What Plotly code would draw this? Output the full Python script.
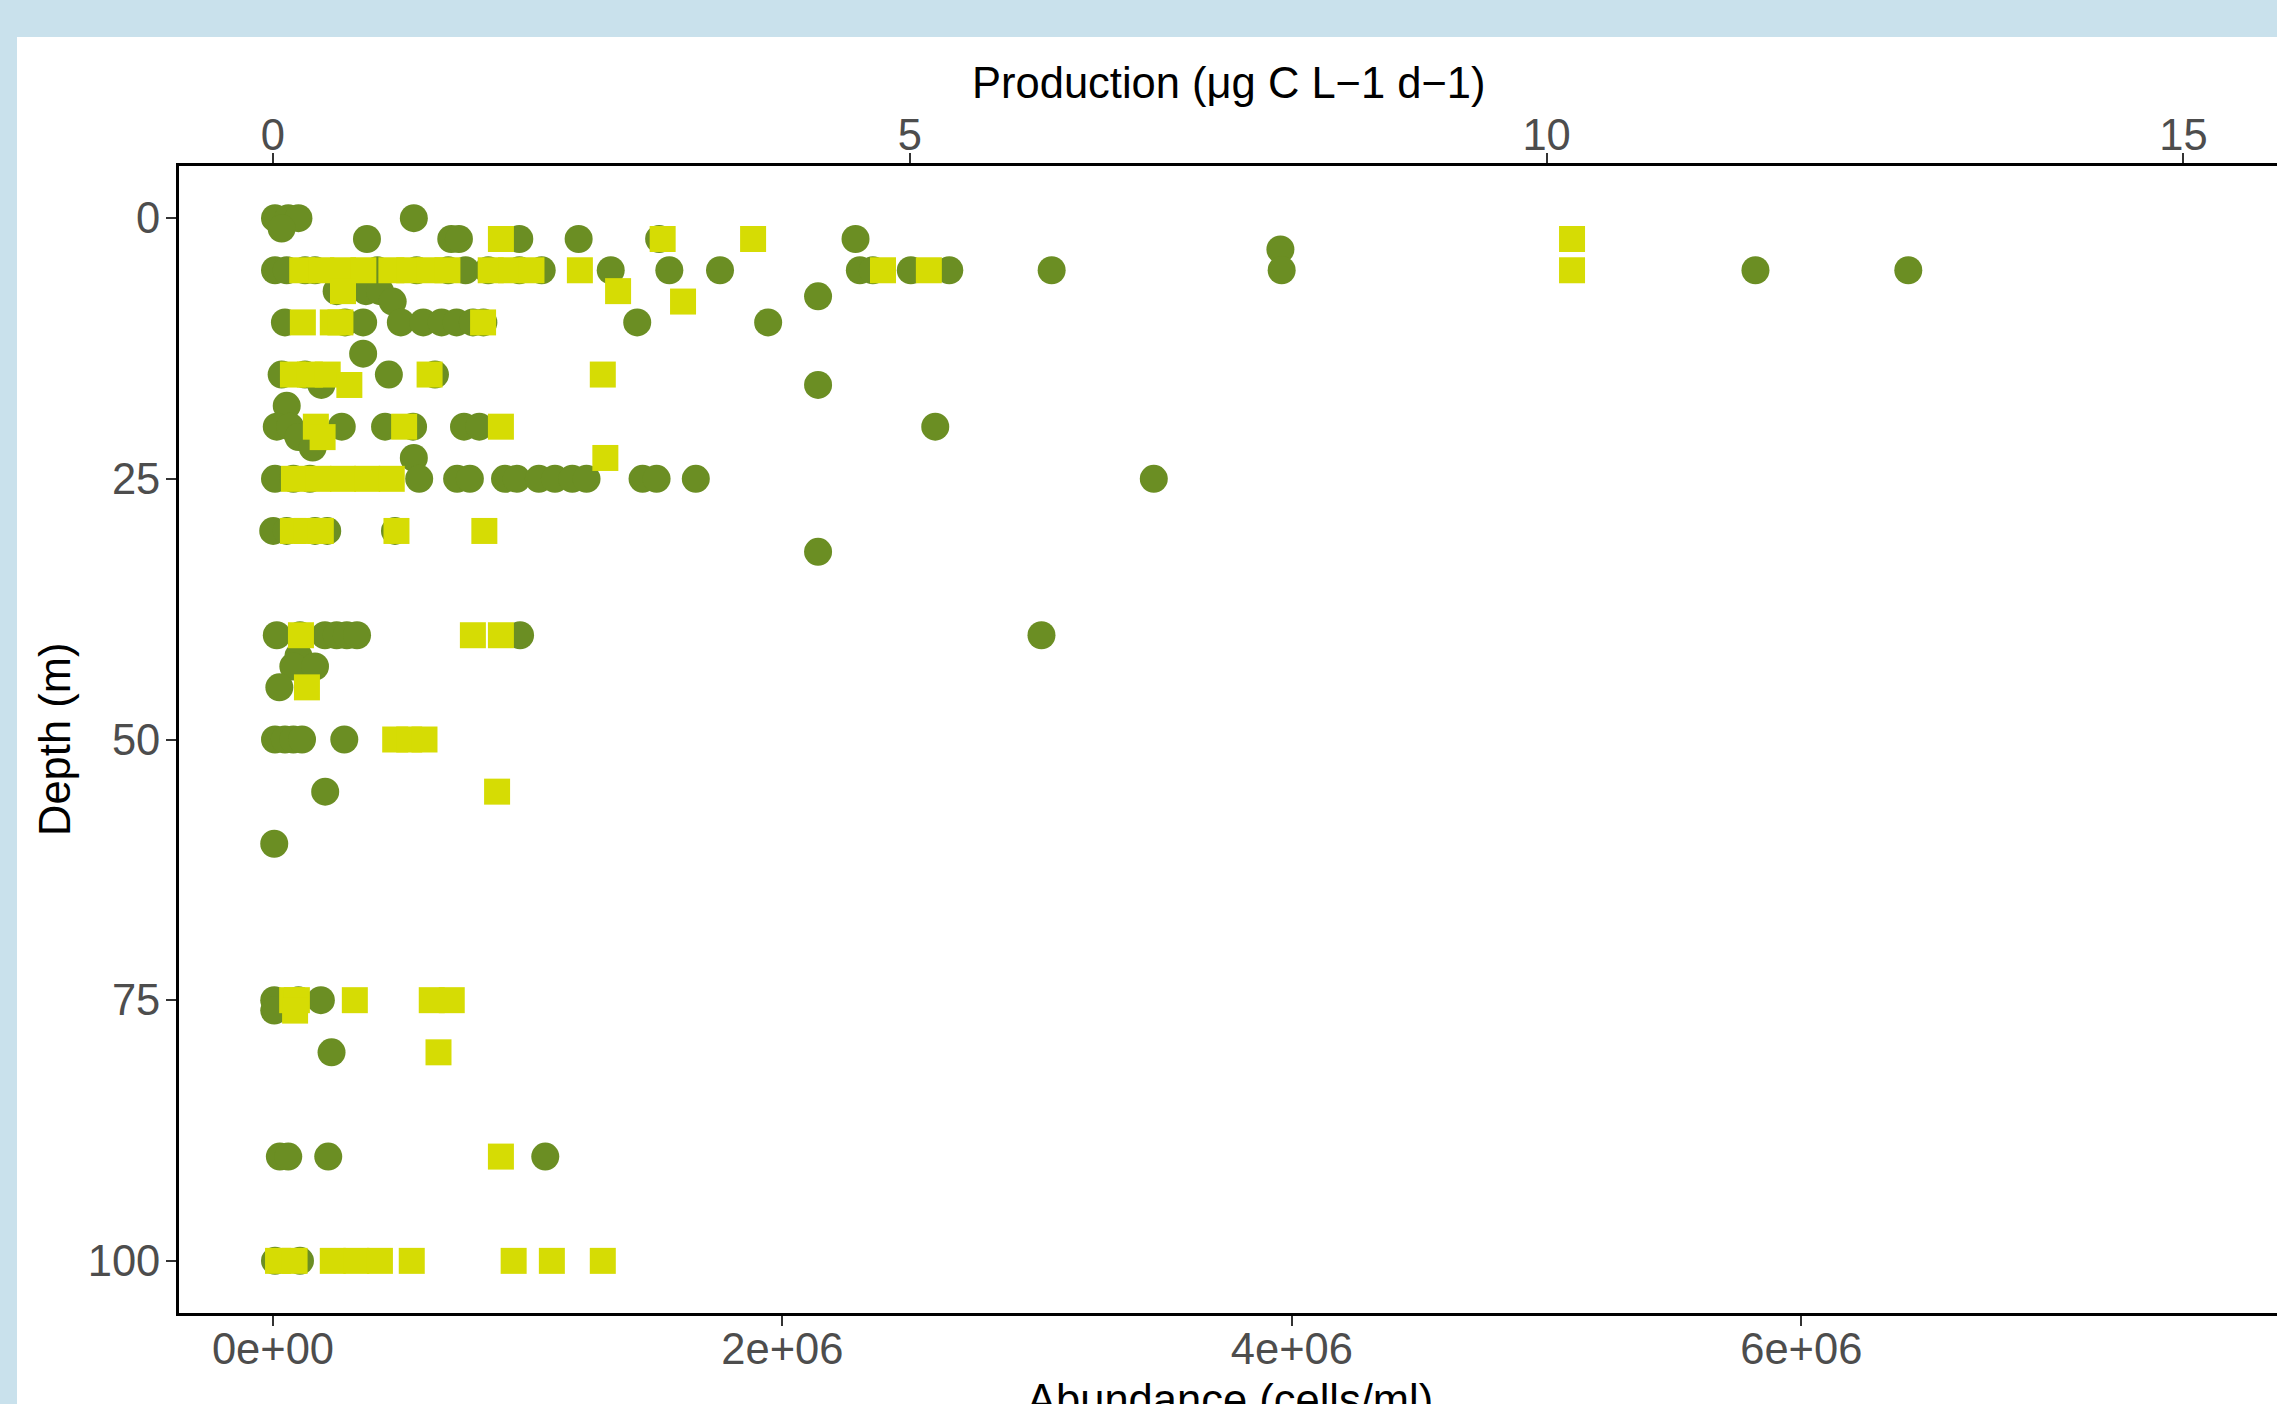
import plotly.graph_objects as go

# ---------------- data ----------------
# Abundance (cells/ml) vs depth (m) -- circles, bottom axis
ab_depth = (
    [0, 0, 0, 0]
    + [1]
    + [2, 2, 2, 2, 2, 2, 2]
    + [3]
    + [5] * 22
    + [7, 7, 7]
    + [7.5]
    + [8]
    + [10] * 11
    + [13]
    + [15, 15, 15, 15]
    + [16, 16]
    + [18]
    + [20] * 8
    + [21]
    + [22]
    + [23]
    + [25] * 16
    + [30] * 5
    + [32]
    + [40] * 8
    + [42]
    + [43, 43]
    + [45]
    + [50] * 5
    + [55]
    + [60]
    + [75, 75, 75]
    + [76]
    + [80]
    + [90] * 4
    + [100, 100]
)
abundance_millions = (
    [0.008, 0.06, 0.10, 0.553]
    + [0.034]
    + [0.369, 0.70, 0.73, 0.967, 1.20, 1.516, 2.287]
    + [3.955]
    + [0.008, 0.054, 0.126, 0.165, 0.41, 0.564, 0.688, 0.756, 0.845, 0.967, 1.055,
       1.326, 1.556, 1.755, 2.304, 2.355, 2.504, 2.655, 3.057, 3.96, 5.82, 6.42]
    + [0.25, 0.365, 0.42]
    + [2.14]
    + [0.47]
    + [0.047, 0.283, 0.354, 0.502, 0.59, 0.662, 0.721, 0.785, 0.826, 1.43, 1.944]
    + [0.354]
    + [0.034, 0.126, 0.455, 0.636]
    + [0.19, 2.14]
    + [0.054]
    + [0.015, 0.067, 0.27, 0.44, 0.55, 0.75, 0.81, 2.6]
    + [0.10]
    + [0.156]
    + [0.553]
    + [0.008, 0.08, 0.145, 0.574, 0.723, 0.773, 0.911, 0.957, 1.044, 1.107, 1.175,
       1.231, 1.451, 1.506, 1.66, 3.458]
    + [0.001, 0.054, 0.165, 0.213, 0.479]
    + [2.14]
    + [0.015, 0.106, 0.204, 0.25, 0.29, 0.33, 0.97, 3.017]
    + [0.10]
    + [0.08, 0.165]
    + [0.025]
    + [0.008, 0.047, 0.08, 0.114, 0.28]
    + [0.205]
    + [0.005]
    + [0.005, 0.1, 0.188]
    + [0.005]
    + [0.23]
    + [0.027, 0.06, 0.217, 1.069]
    + [0.008, 0.106]
)
abundance = [v * 1e6 for v in abundance_millions]

# Production (ug C L-1 d-1) vs depth (m) -- squares, top axis
prod_depth = (
    [2, 2, 2, 2]
    + [5] * 15
    + [7, 7]
    + [8]
    + [10] * 4
    + [15] * 5
    + [16]
    + [20] * 3
    + [21]
    + [23]
    + [25] * 5
    + [30] * 5
    + [40] * 3
    + [45]
    + [50] * 3
    + [55]
    + [75] * 5
    + [76]
    + [80]
    + [90]
    + [100] * 9
)
production = (
    [1.79, 3.06, 3.77, 10.2]
    + [0.23, 0.38, 0.55, 0.71, 0.93, 1.07, 1.23, 1.37, 1.71, 1.87, 2.03, 2.41, 4.79, 5.15, 10.2]
    + [0.55, 2.71]
    + [3.22]
    + [0.235, 0.47, 0.53, 1.65]
    + [0.157, 0.29, 0.43, 1.23, 2.59]
    + [0.60]
    + [0.337, 1.03, 1.79]
    + [0.39]
    + [2.61]
    + [0.165, 0.357, 0.55, 0.74, 0.933]
    + [0.157, 0.267, 0.376, 0.97, 1.66]
    + [0.22, 1.57, 1.79]
    + [0.267]
    + [0.96, 1.07, 1.19]
    + [1.76]
    + [0.151, 0.188, 0.643, 1.247, 1.404]
    + [0.174]
    + [1.30]
    + [1.79]
    + [0.04, 0.17, 0.47, 0.655, 0.84, 1.09, 1.89, 2.19, 2.59]
)

ab_tickvals = [0, 2e6, 4e6, 6e6]
ab_ticktext = ["0e+00", "2e+06", "4e+06", "6e+06"]
prod_tickvals = [0, 5, 10, 15]
prod_ticktext = ["0", "5", "10", "15"]
depth_tickvals = [0, 25, 50, 75, 100]
depth_ticktext = ["0", "25", "50", "75", "100"]

# ---------------- figure ----------------
W, H = 2277, 1404
L, T, B = 179, 166, 91
plot_w = W - L
plot_h = H - T - B

FONT = "Liberation Sans, Arial, Helvetica, sans-serif"
TICKFONT = dict(family=FONT, size=43.5, color="#4D4D4D")
TITLEFONT = dict(family=FONT, size=43.5, color="#000000")


def px_to_paper_x(px):
    return (px - L) / plot_w


def px_to_paper_y(py):
    return (H - B - py) / plot_h


fig = go.Figure()
fig.add_trace(go.Scatter(
    x=abundance, y=ab_depth, mode="markers", xaxis="x", yaxis="y",
    marker=dict(symbol="circle", size=28, color="#6B8E23", line=dict(width=0)),
    showlegend=False, hoverinfo="skip",
))
fig.add_trace(go.Scatter(
    x=production, y=prod_depth, mode="markers", xaxis="x2", yaxis="y",
    marker=dict(symbol="square", size=26, color="#D6DC04", line=dict(width=0)),
    showlegend=False, hoverinfo="skip",
))

axis_common = dict(
    showline=True, linecolor="#000000", linewidth=3,
    ticks="outside", ticklen=10, tickwidth=2, tickcolor="#333333",
    tickfont=TICKFONT, showgrid=False, zeroline=False, automargin=False,
)

fig.update_layout(
    template="none",
    width=W, height=H,
    margin=dict(l=L, r=0, t=T, b=B, pad=0),
    paper_bgcolor="#C9E1EC",
    plot_bgcolor="#FFFFFF",
    showlegend=False,
    xaxis=dict(range=[-0.3689e6, 7.8675e6], tickmode="array",
               tickvals=ab_tickvals, ticktext=ab_ticktext,
               ticklabelstandoff=-14, **axis_common),
    xaxis2=dict(range=[-0.7375, 15.735], overlaying="x", side="top",
                tickmode="array", tickvals=prod_tickvals, ticktext=prod_ticktext,
                ticklabelstandoff=-14, **axis_common),
    yaxis=dict(range=[105, -5], tickmode="array", tickvals=depth_tickvals,
               ticktext=depth_ticktext, ticklabelstandoff=-3, **axis_common),
    shapes=[dict(type="rect", xref="paper", yref="paper", layer="below",
                 x0=px_to_paper_x(17), x1=1.2, y0=-0.3, y1=px_to_paper_y(37),
                 fillcolor="#FFFFFF", line=dict(width=0))],
    annotations=[
        dict(text="Production (μg C L−1 d−1)", xref="paper", yref="paper",
             x=px_to_paper_x(1229), y=px_to_paper_y(83), xanchor="center",
             yanchor="middle", showarrow=False, font=TITLEFONT),
        dict(text="Abundance (cells/ml)", xref="paper", yref="paper",
             x=px_to_paper_x(1230), y=px_to_paper_y(1400), xanchor="center",
             yanchor="middle", showarrow=False, font=TITLEFONT),
        dict(text="Depth (m)", xref="paper", yref="paper",
             x=px_to_paper_x(55), y=px_to_paper_y(740), xanchor="center",
             yanchor="middle", textangle=-90, showarrow=False, font=TITLEFONT),
    ],
)

fig.write_html(
    "out.html",
    config={"displayModeBar": False},
    post_script="document.body.style.margin='0';document.body.style.overflow='hidden';",
)
